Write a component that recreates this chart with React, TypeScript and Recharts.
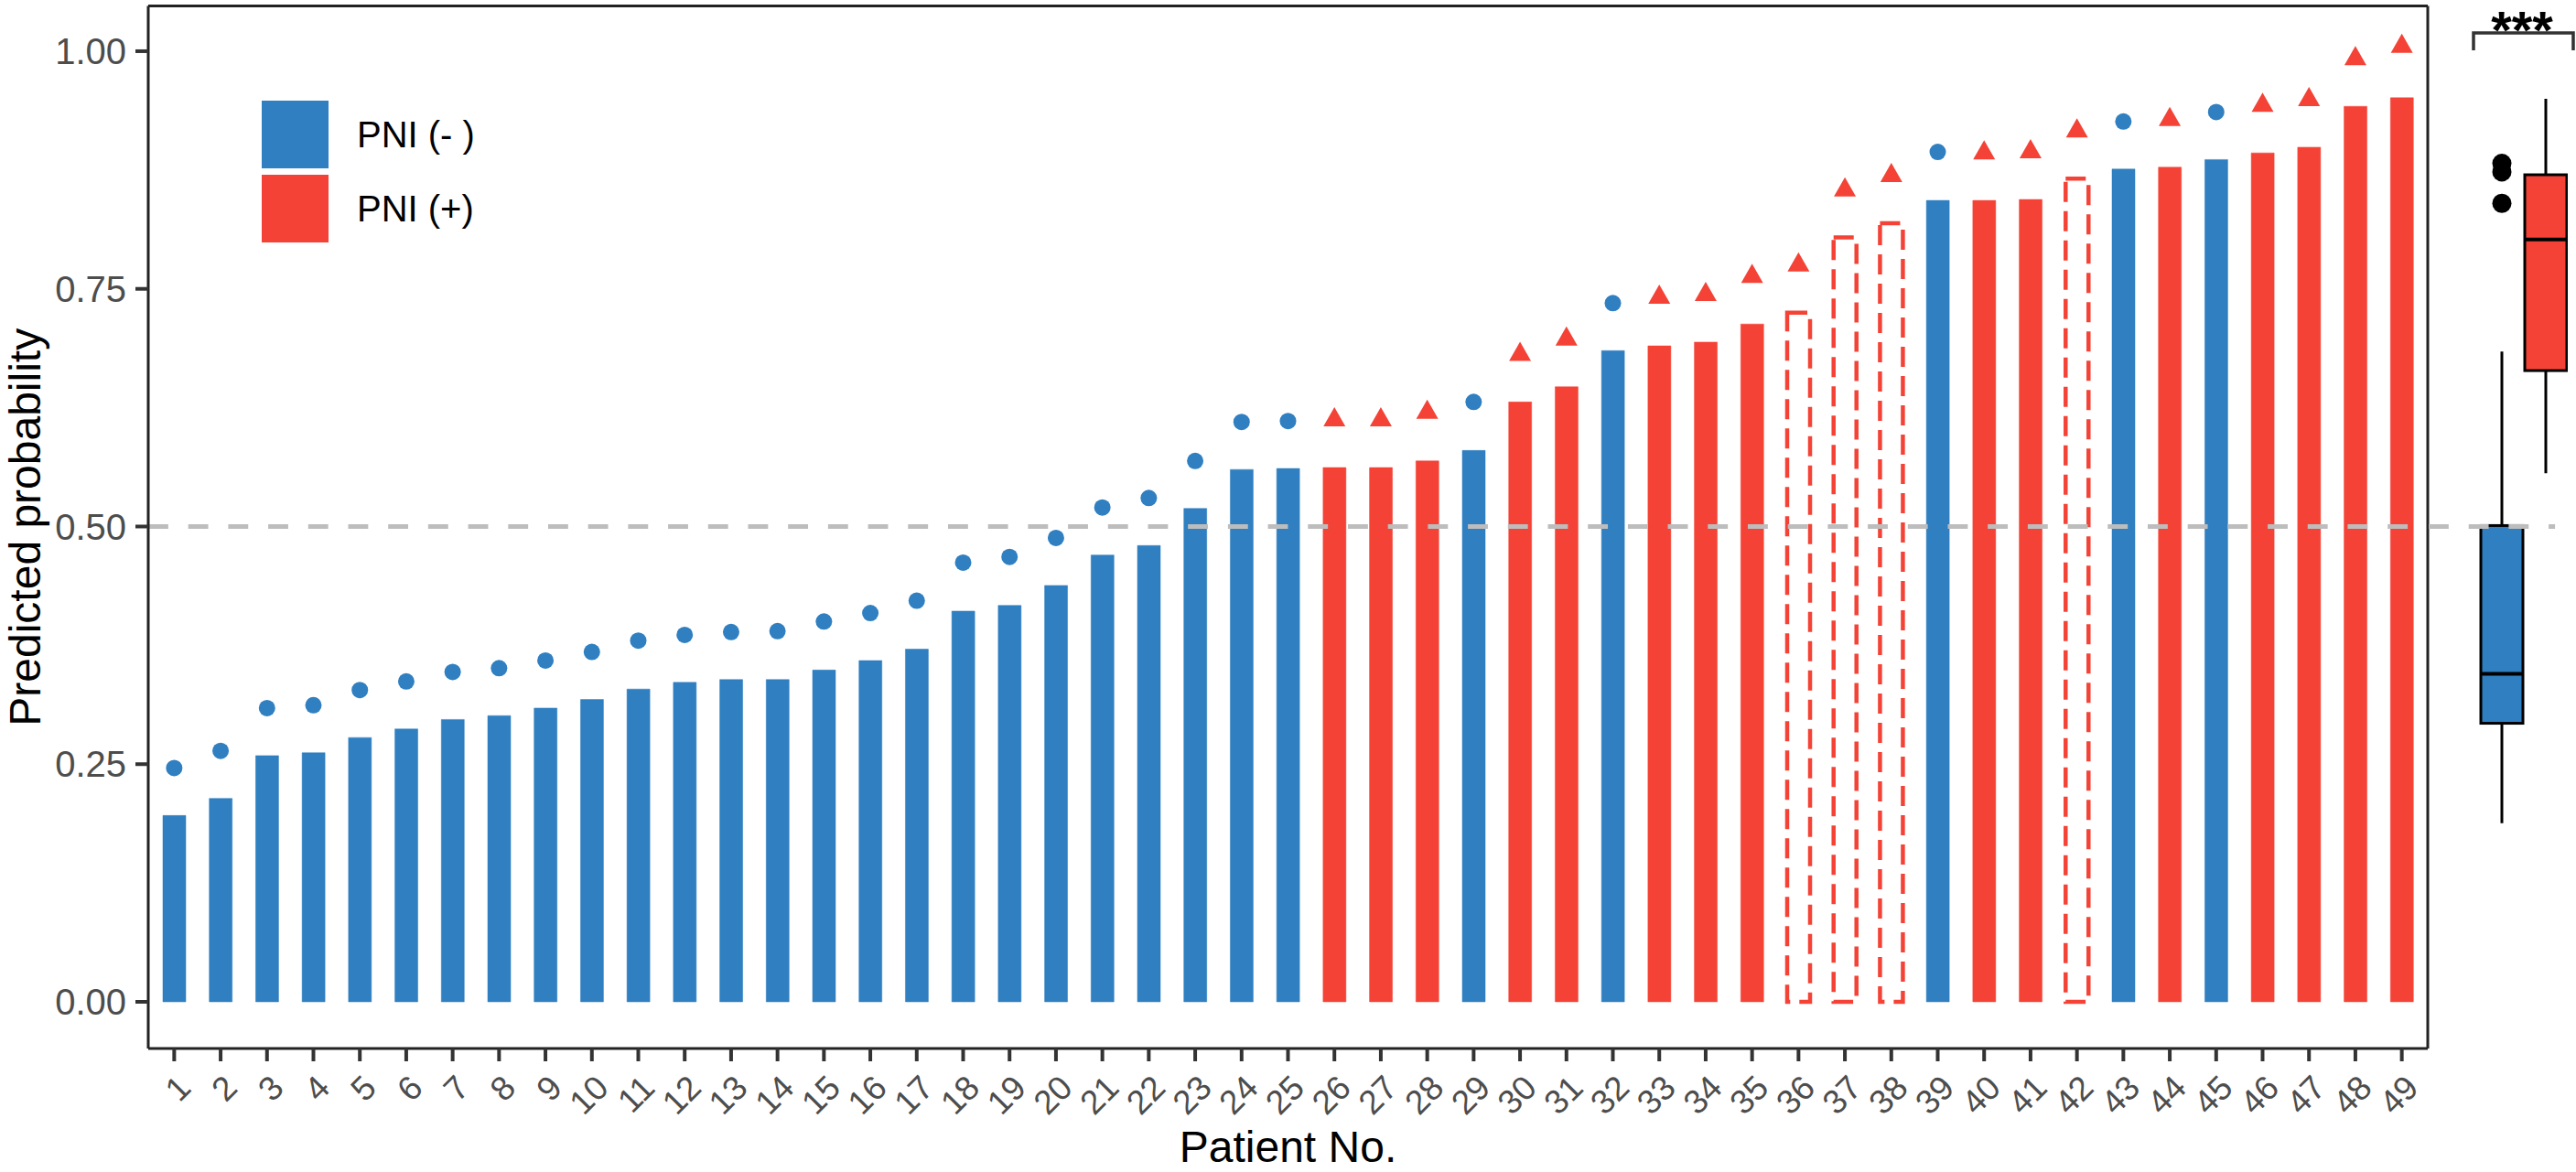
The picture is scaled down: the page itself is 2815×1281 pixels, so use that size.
import React from 'react';
import {
  ComposedChart,
  Bar,
  Scatter,
  XAxis,
  YAxis,
  ReferenceLine,
  Cell,
  Legend,
  Label,
} from 'recharts';

const FONT = '"Liberation Sans", Arial, Helvetica, sans-serif';
const BLUE = '#2F7FC1';
const RED = '#F44336';
const AXIS = '#222222';

// ---------- data ----------
const patients = [
  '1', '2', '3', '4', '5', '6', '7', '8', '9', '10',
  '11', '12', '13', '14', '15', '16', '17', '18', '19', '20',
  '21', '22', '23', '24', '25', '26', '27', '28', '29', '30',
  '31', '32', '33', '34', '35', '36', '37', '38', '39', '40',
  '41', '42', '43', '44', '45', '46', '47', '48', '49',
];

const probabilities = [
  0.196, 0.214, 0.259, 0.262, 0.278, 0.287, 0.297, 0.301, 0.309, 0.318,
  0.329, 0.336, 0.339, 0.339, 0.349, 0.359, 0.371, 0.411, 0.417, 0.438,
  0.470, 0.480, 0.519, 0.560, 0.561, 0.562, 0.562, 0.569, 0.580, 0.631,
  0.647, 0.685, 0.690, 0.694, 0.713, 0.725, 0.804, 0.819, 0.843, 0.843,
  0.844, 0.866, 0.876, 0.878, 0.886, 0.893, 0.899, 0.942, 0.951,
];

// 'neg' = predicted PNI(-), 'pos' = predicted PNI(+), 'miss' = dashed outline bar
const barGroups = [
  'neg', 'neg', 'neg', 'neg', 'neg', 'neg', 'neg', 'neg', 'neg', 'neg',
  'neg', 'neg', 'neg', 'neg', 'neg', 'neg', 'neg', 'neg', 'neg', 'neg',
  'neg', 'neg', 'neg', 'neg', 'neg', 'pos', 'pos', 'pos', 'neg', 'pos',
  'pos', 'neg', 'pos', 'pos', 'pos', 'miss', 'miss', 'miss', 'neg', 'pos',
  'pos', 'miss', 'neg', 'pos', 'neg', 'pos', 'pos', 'pos', 'pos',
];

const markerValues = [
  0.246, 0.264, 0.309, 0.312, 0.328, 0.337, 0.347, 0.351, 0.359, 0.368,
  0.380, 0.386, 0.389, 0.390, 0.400, 0.409, 0.422, 0.462, 0.468, 0.488,
  0.520, 0.530, 0.569, 0.610, 0.611, 0.612, 0.612, 0.620, 0.631, 0.681,
  0.697, 0.735, 0.741, 0.744, 0.763, 0.775, 0.854, 0.869, 0.894, 0.893,
  0.894, 0.916, 0.926, 0.928, 0.936, 0.943, 0.949, 0.992, 1.005,
];

const markerShapes = [
  'dot', 'dot', 'dot', 'dot', 'dot', 'dot', 'dot', 'dot', 'dot', 'dot',
  'dot', 'dot', 'dot', 'dot', 'dot', 'dot', 'dot', 'dot', 'dot', 'dot',
  'dot', 'dot', 'dot', 'dot', 'dot', 'tri', 'tri', 'tri', 'dot', 'tri',
  'tri', 'dot', 'tri', 'tri', 'tri', 'tri', 'tri', 'tri', 'dot', 'tri',
  'tri', 'tri', 'dot', 'tri', 'dot', 'tri', 'tri', 'tri', 'tri',
];

const yTicks = [0, 0.25, 0.5, 0.75, 1];
const legendLabels = ['PNI (- )', 'PNI (+)'];

const boxGroups = ['neg', 'pos'];
const boxMin = [0.188, 0.556];
const boxQ1 = [0.293, 0.664];
const boxMedian = [0.345, 0.802];
const boxQ3 = [0.501, 0.87];
const boxMax = [0.684, 0.95];
const boxOutliers = [[0.882, 0.873, 0.84], []];

const significance = '***';

// ---------- derived tables ----------
const rows = patients.map((p, i) => ({
  patient: p,
  prob: probabilities[i],
  group: barGroups[i],
  dot: markerShapes[i] === 'dot' ? markerValues[i] : null,
  tri: markerShapes[i] === 'tri' ? markerValues[i] : null,
}));

const boxRows = boxGroups.map((g, i) => ({
  grp: g,
  min: boxMin[i],
  q1: boxQ1[i],
  median: boxMedian[i],
  q3: boxQ3[i],
  max: boxMax[i],
  outliers: boxOutliers[i],
}));

const Y_DOMAIN: [number, number] = [-0.0491, 1.0476];
const legendColors = [BLUE, RED];

// ---------- shapes ----------
const DotShape = (props: any) => {
  const { cx, cy, payload } = props;
  if (!payload || payload.dot == null || cy == null || isNaN(cy)) return <g />;
  return <circle cx={cx} cy={cy} r={9} fill={BLUE} />;
};

const TriShape = (props: any) => {
  const { cx, cy, payload } = props;
  if (!payload || payload.tri == null || cy == null || isNaN(cy)) return <g />;
  const pts = `${cx},${cy - 14} ${cx - 12},${cy + 7} ${cx + 12},${cy + 7}`;
  return <polygon points={pts} fill={RED} />;
};

const XTick = (props: any) => {
  const { x, y, payload } = props;
  const ax = x + 11;
  const ay = y + 22;
  return (
    <text
      x={ax}
      y={ay}
      dy="0.35em"
      textAnchor="end"
      transform={`rotate(-45, ${ax}, ${ay})`}
      fontSize={37}
      fill="#4d4d4d"
      fontFamily={FONT}
    >
      {payload.value}
    </text>
  );
};

const BoxShape = (props: any) => {
  const { x, y, width, height, payload } = props;
  if (!payload) return <g />;
  const top = Math.min(y, y + height);
  const bottom = Math.max(y, y + height);
  const span = payload.max - payload.min;
  const yOf = (v: number) => top + ((payload.max - v) / span) * (bottom - top);
  const cx = x + width / 2;
  const q1 = yOf(payload.q1);
  const q3 = yOf(payload.q3);
  const med = yOf(payload.median);
  const color = payload.grp === 'neg' ? BLUE : RED;
  return (
    <g>
      <line x1={cx} x2={cx} y1={top} y2={bottom} stroke="#000" strokeWidth={3} />
      <rect x={x} y={q3} width={width} height={q1 - q3} fill={color} stroke="#000" strokeWidth={3} />
      <line x1={x} x2={x + width} y1={med} y2={med} stroke="#000" strokeWidth={4} />
      {payload.outliers.map((v: number, i: number) => (
        <circle key={i} cx={cx} cy={yOf(v)} r={10.5} fill="#000" />
      ))}
    </g>
  );
};

const LegendContent = () => (
  <div style={{ fontFamily: FONT }}>
    {legendLabels.map((l, i) => (
      <div
        key={l}
        style={{ display: 'flex', alignItems: 'center', height: 74, marginBottom: 7 }}
      >
        <div style={{ width: 73, height: 74, background: legendColors[i] }} />
        <span style={{ marginLeft: 31, fontSize: 40, color: '#000', lineHeight: 1 }}>{l}</span>
      </div>
    ))}
  </div>
);

export default function App() {
  return (
    <div
      style={{
        position: 'fixed',
        left: 0,
        top: 0,
        width: 2815,
        height: 1281,
        background: '#fff',
        overflow: 'hidden',
        fontFamily: FONT,
      }}
    >
      <div style={{ position: 'absolute', left: 0, top: 0 }}>
        <ComposedChart
          width={2660}
          height={1281}
          data={rows}
          margin={{ top: 5.5, right: 6, bottom: 0, left: 62 }}
        >
          <XAxis
            dataKey="patient"
            height={135}
            interval={0}
            tickSize={14}
            tickMargin={0}
            tick={<XTick />}
            padding={{ left: 3, right: 3 }}
            axisLine={{ stroke: AXIS, strokeWidth: 3 }}
            tickLine={{ stroke: '#333', strokeWidth: 4 }}
          >
            <Label
              content={(p: any) => {
                const vb = p.viewBox || {};
                return (
                  <text
                    x={vb.x + vb.width / 2}
                    y={vb.y + vb.height - 11}
                    textAnchor="middle"
                    fontSize={48}
                    fill="#000"
                    fontFamily={FONT}
                  >
                    Patient No.
                  </text>
                );
              }}
            />
          </XAxis>
          <XAxis
            xAxisId="top"
            orientation="top"
            dataKey="patient"
            height={1}
            tick={false}
            tickLine={false}
            axisLine={{ stroke: AXIS, strokeWidth: 3 }}
          />
          <YAxis
            type="number"
            width={100}
            domain={Y_DOMAIN}
            allowDataOverflow
            ticks={yTicks}
            tickFormatter={(v: number) => v.toFixed(2)}
            tickSize={14}
            tickMargin={10}
            tick={{ fontSize: 40, fill: '#4d4d4d', fontFamily: FONT }}
            axisLine={{ stroke: AXIS, strokeWidth: 3 }}
            tickLine={{ stroke: '#333', strokeWidth: 4 }}
          >
            <Label
              content={(p: any) => {
                const vb = p.viewBox || {};
                const cx = vb.x - 18;
                const cy = vb.y + vb.height / 2;
                return (
                  <text
                    x={cx}
                    y={cy}
                    textAnchor="middle"
                    transform={`rotate(-90, ${cx}, ${cy})`}
                    fontSize={48}
                    fill="#000"
                    fontFamily={FONT}
                  >
                    Predicted probability
                  </text>
                );
              }}
            />
          </YAxis>
          <YAxis
            yAxisId="right"
            orientation="right"
            type="number"
            width={1}
            domain={Y_DOMAIN}
            allowDataOverflow
            tick={false}
            tickLine={false}
            axisLine={{ stroke: AXIS, strokeWidth: 3 }}
          />
          <Legend
            layout="horizontal"
            verticalAlign="middle"
            align="center"
            content={<LegendContent />}
            wrapperStyle={{ position: 'absolute', left: 286, top: 110, width: 500, height: 160 }}
          />
          <Bar dataKey="prob" barSize={25} isAnimationActive={false}>
            {rows.map((r) => {
              if (r.group === 'miss') {
                return (
                  <Cell
                    key={r.patient}
                    fill="none"
                    stroke={RED}
                    strokeWidth={4.5}
                    strokeDasharray="22 10"
                  />
                );
              }
              const c = r.group === 'neg' ? BLUE : RED;
              return <Cell key={r.patient} fill={c} stroke={c} strokeWidth={0.5} />;
            })}
          </Bar>
          <Scatter dataKey="dot" shape={DotShape} isAnimationActive={false} />
          <Scatter dataKey="tri" shape={TriShape} isAnimationActive={false} />
          <ReferenceLine
            y={0.5}
            stroke="#bdbdbd"
            strokeWidth={5}
            strokeDasharray="21.85 21.85"
          />
          <ReferenceLine y={Y_DOMAIN[1]} stroke={AXIS} strokeWidth={3} />
        </ComposedChart>
      </div>

      <div style={{ position: 'absolute', left: 2654, top: 0 }}>
        <ComposedChart
          width={152}
          height={1281}
          data={boxRows}
          margin={{ top: 6.5, right: 0, bottom: 135, left: 0 }}
        >
          <XAxis dataKey="grp" hide padding={{ left: 56, right: 0 }} />
          <YAxis type="number" hide domain={Y_DOMAIN} allowDataOverflow />
          <Bar
            dataKey={(d: any) => [d.min, d.max]}
            barSize={46}
            shape={BoxShape}
            isAnimationActive={false}
          />
          <ReferenceLine
            y={0.5}
            stroke="#bdbdbd"
            strokeWidth={5}
            strokeDasharray="21.85 21.85 21.85 21.85 21.85 21.85 7 300"
          />
        </ComposedChart>
      </div>

      <svg
        width={2815}
        height={1281}
        style={{ position: 'absolute', left: 0, top: 0, pointerEvents: 'none' }}
      >
        <path d="M2703,55 V36 H2812 V55" fill="none" stroke="#333" strokeWidth={3.5} />
        <text
          x={2756}
          y={53}
          textAnchor="middle"
          fontSize={58}
          fontWeight="bold"
          fill="#000"
          fontFamily={FONT}
        >
          {significance}
        </text>
      </svg>
    </div>
  );
}
